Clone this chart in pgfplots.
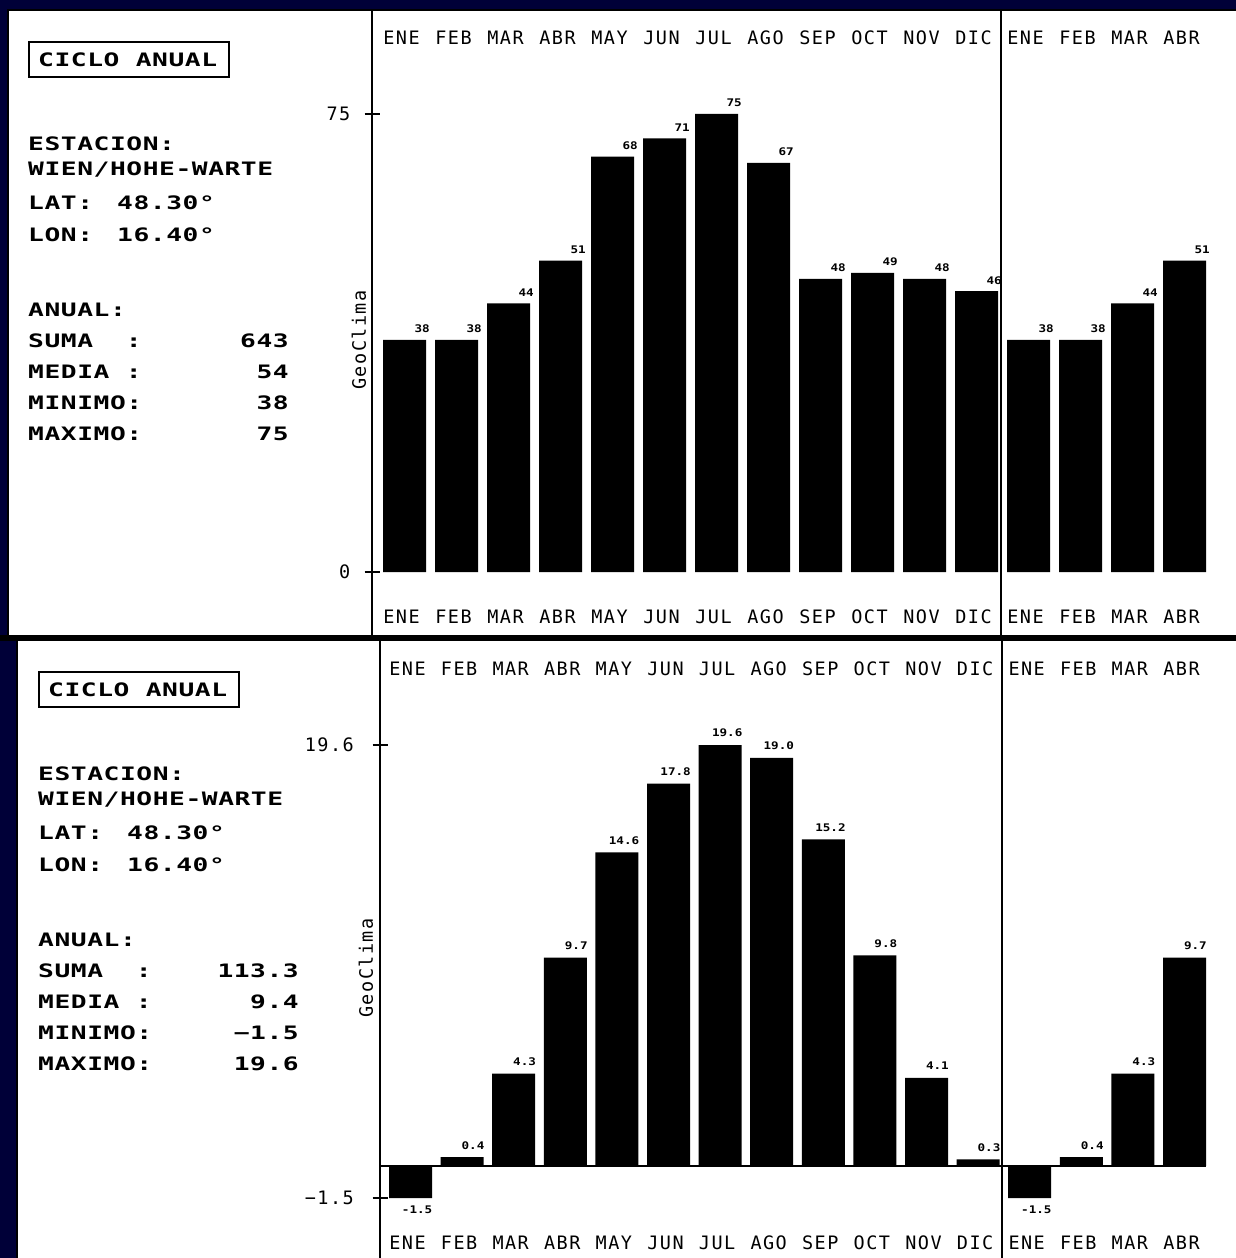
\documentclass[border=0pt]{standalone}
\usepackage{pgfplots}
\pgfplotsset{compat=1.18}
\usepackage{pgfplotstable}
\usepackage{fontspec}
\setmainfont{DejaVu Sans Mono}
\newfontfamily\monthfont[LetterSpace=8]{DejaVu Sans Mono}
\newfontfamily\panelfont[FakeStretch=1.42,LetterSpace=3]{DejaVu Sans Mono}
\newfontfamily\valfont[FakeStretch=1.2]{DejaVu Sans Mono}
\definecolor{navy}{RGB}{0,0,56}

\newcommand\monthsize{\monthfont\fontsize{18.5}{18.5}\selectfont}
\newcommand\panelsize{\panelfont\bfseries\fontsize{18.5}{18.5}\selectfont}
\newcommand\valsize{\valfont\bfseries\fontsize{10.5}{10.5}\selectfont}

% monthly precipitation (mm), 12 months plus the first four repeated
\pgfplotstableread{
x  y   lab
0  38  38
1  38  38
2  44  44
3  51  51
4  68  68
5  71  71
6  75  75
7  67  67
8  48  48
9  49  49
10 48  48
11 46  46
12 38  38
13 38  38
14 44  44
15 51  51
}\precip

% monthly mean temperature (degrees C)
\pgfplotstableread{
x  y     lab
0  -1.5  -1.5
1  0.4   0.4
2  4.3   4.3
3  9.7   9.7
4  14.6  14.6
5  17.8  17.8
6  19.6  19.6
7  19.0  19.0
8  15.2  15.2
9  9.8   9.8
10 4.1   4.1
11 0.3   0.3
12 -1.5  -1.5
13 0.4   0.4
14 4.3   4.3
15 9.7   9.7
}\temper

\pgfplotstableread{
x  name
0  ENE
1  FEB
2  MAR
3  ABR
4  MAY
5  JUN
6  JUL
7  AGO
8  SEP
9  OCT
10 NOV
11 DIC
12 ENE
13 FEB
14 MAR
15 ABR
}\months

\pgfplotsset{
  barvalues/.style 2 args={only marks, mark=none, point meta=explicit symbolic,
    nodes near coords,
    every node near coord/.append style={anchor=east, inner sep=0pt,
      xshift=#1, yshift=#2, font=\valsize}},
  monthrow/.style={only marks, mark=none, point meta=explicit symbolic,
    nodes near coords,
    every node near coord/.append style={anchor=base, inner sep=0pt,
      xshift=-3pt, font=\monthsize}},
  climaxis/.style={
    axis x line=none, axis y line=left,
    axis line style={-, line width=1.5pt, black},
    major tick length=15pt, tick align=center,
    ytick style={line width=1.2pt, black},
    yticklabel style={font=\monthsize, inner sep=0pt, anchor=east},
    ylabel={GeoClima},
    clip=false,
  },
}

% station summary block
\newcommand\infopanel[4]{%
  \draw[line width=1.6pt] (29pt,-42pt) rectangle (229pt,-77pt);
  \node[anchor=base west] at (38pt,-66pt) {CICLO ANUAL};
  \node[anchor=base west] at (28pt,-150pt) {ESTACION:};
  \node[anchor=base west] at (28pt,-175pt) {WIEN/HOHE-WARTE};
  \node[anchor=base west] at (28pt,-209pt) {LAT:};
  \node[anchor=base west] at (117pt,-209pt) {48.30°};
  \node[anchor=base west] at (28pt,-241pt) {LON:};
  \node[anchor=base west] at (117pt,-241pt) {16.40°};
  \node[anchor=base west] at (28pt,-316pt) {ANUAL:};
  \node[anchor=base west] at (28pt,-347pt) {SUMA~~:};
  \node[anchor=base west] at (28pt,-378pt) {MEDIA~:};
  \node[anchor=base west] at (28pt,-409pt) {MINIMO:};
  \node[anchor=base west] at (28pt,-440pt) {MAXIMO:};
  \node[anchor=base east] at (289pt,-347pt) {#1};
  \node[anchor=base east] at (289pt,-378pt) {#2};
  \node[anchor=base east] at (289pt,-409pt) {#3};
  \node[anchor=base east] at (289pt,-440pt) {#4};
}

\begin{document}
\begin{tikzpicture}
\fill[navy] (0pt,0pt) rectangle (1236pt,-1258pt);
\fill[black] (0pt,-634.5pt) rectangle (1236pt,-640.5pt);
\filldraw[fill=white, draw=black, line width=1.2pt] (8pt,-10pt) rectangle (1240pt,-636pt);
\filldraw[fill=white, draw=black, line width=1.2pt] (17pt,-640pt) rectangle (1240pt,-1262pt);

\begin{scope}[every node/.style={inner sep=0pt, font=\panelsize}]
  \infopanel{643}{54}{38}{75}
\end{scope}
\begin{scope}[shift={(10pt,-630pt)}, every node/.style={inner sep=0pt, font=\panelsize}]
  \infopanel{113.3}{9.4}{−1.5}{19.6}
\end{scope}

% precipitation
\begin{axis}[climaxis,
  at={(372pt,-636pt)}, anchor=south west,
  x=52pt, y=6.1067pt,
  xmin=-0.625, xmax=15.99, ymin=-10.48, ymax=92.03,
  ytick={0,75}, yticklabels={0,75},
  yticklabel style={xshift=-14pt},
  ylabel style={at={(axis description cs:-0.01505,0.4728)}, anchor=center, font=\monthsize},
]
\addplot[ybar, bar width=43pt, fill=black, draw=none] table[x=x, y=y] {\precip};
\addplot[barvalues={25.5pt}{10.8pt}] table[x=x, y=y, meta=lab] {\precip};
\addplot[monthrow] table[x=x, y expr=86.3, meta=name] {\months};
\addplot[monthrow] table[x=x, y expr=-8.35, meta=name] {\months};
\draw[line width=1.5pt] (axis cs:11.47,-10.48) -- (axis cs:11.47,92.03);
\end{axis}

% temperature
\begin{axis}[climaxis,
  at={(380pt,-1258pt)}, anchor=south west,
  x=51.6pt, y=21.47pt,
  xmin=-0.591, xmax=16.0, ymin=-4.294, ymax=24.49,
  ytick={-1.5,19.6}, yticklabels={−1.5,19.6},
  yticklabel style={xshift=-18.5pt},
  ylabel style={at={(axis description cs:-0.01636,0.4693)}, anchor=center, font=\monthsize},
]
\addplot[ybar, bar width=43pt, fill=black, draw=none] table[x=x, y=y] {\temper};
\draw[line width=1.5pt] (axis cs:-0.591,0) -- (axis cs:15.42,0);
\addplot[barvalues={22.5pt}{11.8pt}, restrict y to domain=0:100] table[x=x, y=y, meta=lab] {\temper};
\addplot[barvalues={22pt}{-11.8pt}, restrict y to domain=-100:0] table[x=x, y=y, meta=lab] {\temper};
\addplot[monthrow] table[x=x, y expr=22.86, meta=name] {\months};
\addplot[monthrow] table[x=x, y expr=-3.875, meta=name] {\months};
\draw[line width=1.5pt] (axis cs:11.46,-4.294) -- (axis cs:11.46,24.49);
\end{axis}

\pgfresetboundingbox
\path (0pt,0pt) rectangle (1236pt,-1258pt);
\end{tikzpicture}
\end{document}
